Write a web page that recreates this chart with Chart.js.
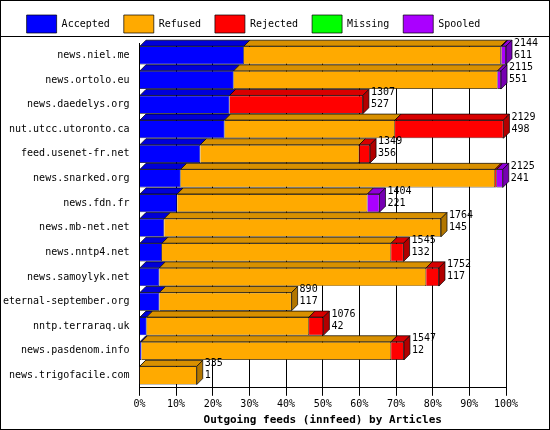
<!DOCTYPE html>
<html><head><meta charset="utf-8">
<script src="https://cdn.jsdelivr.net/npm/chart.js@4/dist/chart.umd.min.js"></script>
<style>html,body{margin:0;background:#fff}#w{width:548px;height:428px;border:1px solid #000;position:relative}canvas{display:block}</style>
</head><body><div id="w"><canvas id="c" width="548" height="428"></canvas></div>
<script>
const feeds=["news.niel.me","news.ortolo.eu","news.daedelys.org","nut.utcc.utoronto.ca","feed.usenet-fr.net","news.snarked.org","news.fdn.fr","news.mb-net.net","news.nntp4.net","news.samoylyk.net","eternal-september.org","nntp.terraraq.uk","news.pasdenom.info","news.trigofacile.com"];
const accepted=[611,551,527,498,356,241,221,145,132,117,117,42,12,1];
const refused=[1503,1544,0,997,930,1839,1113,1619,1340,1560,773,950,1460,334];
const rejected=[5,0,780,634,63,10,0,0,73,75,0,84,75,0];
const missing=[0,0,0,0,0,0,0,0,0,0,0,0,0,0];
const spooled=[25,20,0,0,0,35,70,0,0,0,0,0,0,0];
const totals=[2144,2115,1307,2129,1349,2125,1404,1764,1545,1752,890,1076,1547,335];
const tickLabels=["0%","10%","20%","30%","40%","50%","60%","70%","80%","90%","100%"];
const maxT=Math.max(...totals);
const pct=a=>a.map(v=>v/maxT*100);
const F="DejaVu Sans Mono";
Chart.defaults.font.family=F;Chart.defaults.font.size=10;Chart.defaults.color="#000";
const D=6;
function shade(c,f){const n=parseInt(c.slice(1),16);let r=(n>>16)&255,g=(n>>8)&255,b=n&255;return `rgb(${r*f|0},${g*f|0},${b*f|0})`;}
const threeD={id:'td',
 beforeDraw(ch){const x=ch.ctx;x.save();x.strokeStyle="#000";x.lineWidth=1;x.beginPath();x.moveTo(0,35.5);x.lineTo(ch.width,35.5);x.stroke();x.restore();},
 afterDatasetsDraw(ch){const x=ch.ctx;const n=ch.data.datasets.length;
 ch.data.labels.forEach((l,i)=>{let last=null;
  for(let d=0;d<n;d++){const el=ch.getDatasetMeta(d).data[i];const ds=ch.data.datasets[d];
   if(ds.data[i]<=0)continue;const top=el.y-el.height/2, L=Math.min(el.x,el.base),R=Math.max(el.x,el.base);
   x.beginPath();x.moveTo(L,top);x.lineTo(L+D,top-D);x.lineTo(R+D,top-D);x.lineTo(R,top);x.closePath();
   x.fillStyle=shade(ds.backgroundColor,0.85);x.fill();x.strokeStyle="#000";x.lineWidth=0.7;x.stroke();
   last={R,top,bot:el.y+el.height/2,c:ds.backgroundColor};}
  if(last){x.beginPath();x.moveTo(last.R,last.top);x.lineTo(last.R+D,last.top-D);x.lineTo(last.R+D,last.bot-D);x.lineTo(last.R,last.bot);x.closePath();
   x.fillStyle=shade(last.c,0.7);x.fill();x.stroke();
   x.fillStyle="#000";x.font="10px "+F;x.textAlign="left";x.textBaseline="middle";
   x.fillText(totals[i],last.R+D+2,last.top-3);x.fillText(accepted[i],last.R+D+2,last.top+9);}
 });}};
new Chart(document.getElementById('c'),{type:'bar',plugins:[threeD],
 data:{labels:feeds,datasets:[
  {label:"Accepted",data:pct(accepted),backgroundColor:"#0000ff"},
  {label:"Refused",data:pct(refused),backgroundColor:"#ffaa00"},
  {label:"Rejected",data:pct(rejected),backgroundColor:"#ff0000"},
  {label:"Missing",data:pct(missing),backgroundColor:"#00ff00"},
  {label:"Spooled",data:pct(spooled),backgroundColor:"#aa00ff"}].map(d=>Object.assign(d,{borderColor:"#000",borderWidth:0.7,barPercentage:0.74,categoryPercentage:1}))},
 options:{indexAxis:'y',responsive:false,animation:false,devicePixelRatio:1,
  layout:{padding:{right:43,top:0,left:0,bottom:2}},
  plugins:{legend:{position:'top',labels:{boxWidth:30,boxHeight:18,padding:14,font:{size:10}}},tooltip:{enabled:false}},
  scales:{x:{stacked:true,min:0,max:100,ticks:{stepSize:10,maxRotation:0,callback:(v,i)=>tickLabels[i]},grid:{color:"#000",borderDash:[4,4],drawTicks:true},border:{color:"#000"},
    title:{display:true,text:"Outgoing feeds (innfeed) by Articles",font:{weight:'bold',size:11},padding:0}},
   y:{stacked:true,grid:{display:false},border:{color:"#000"},ticks:{font:{size:10},padding:2}}}}});
</script></body></html>
